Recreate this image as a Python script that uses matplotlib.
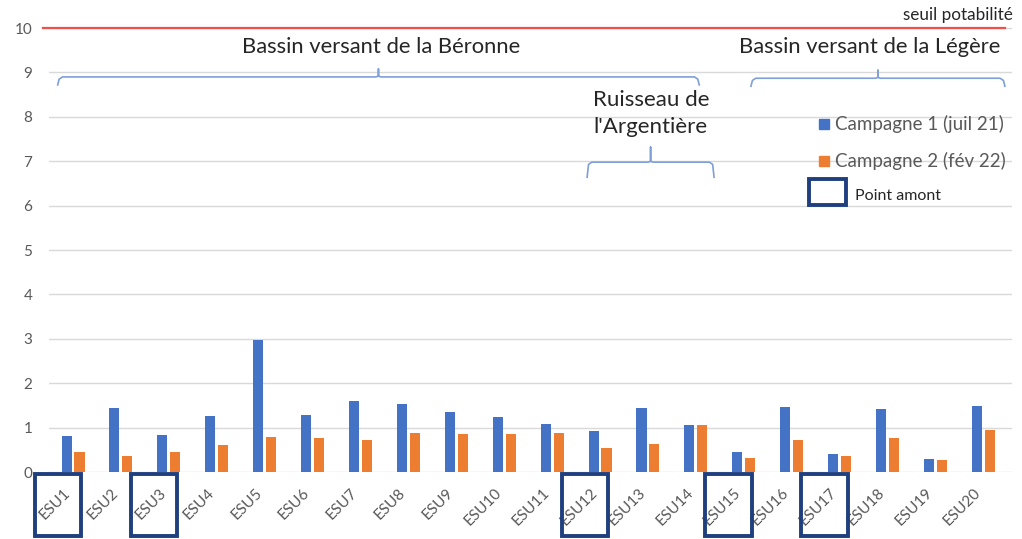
import numpy as np
import matplotlib.pyplot as plt
from matplotlib.patches import Rectangle
import matplotlib.transforms as mtransforms

plt.rcParams.update({
    "font.family": ["Lato", "DejaVu Sans"],
    "font.size": 11,
})

# ---------------- DATA ----------------
sites = ['ESU%d' % i for i in range(1, 21)]
camp1 = [0.80, 1.45, 0.84, 1.27, 2.98, 1.29, 1.60, 1.54, 1.36, 1.24,
         1.09, 0.93, 1.45, 1.05, 0.46, 1.47, 0.40, 1.41, 0.30, 1.48]
camp2 = [0.45, 0.36, 0.45, 0.61, 0.79, 0.76, 0.72, 0.88, 0.85, 0.85,
         0.88, 0.55, 0.64, 1.05, 0.31, 0.72, 0.35, 0.76, 0.28, 0.94]
upstream = ['ESU1', 'ESU3', 'ESU12', 'ESU15', 'ESU17']
threshold = 10

# (label, start, end, level)
groups = [
    ('Bassin versant de la Béronne', -0.32, 13.07, 8.9),
    ('Bassin versant de la Légère', 14.15, 19.45, 8.87),
    ("Ruisseau de\nl'Argentière", 10.73, 13.38, 6.98),
]

BLUE = '#4472C4'
ORANGE = '#ED7D31'
NAVY = '#1F3F7E'
BRACE = '#7F9FD8'
GREY = '#595959'

x = np.arange(len(sites))
w = 0.21

fig = plt.figure(figsize=(10.22, 5.39), dpi=100)
ax = fig.add_axes([0.048, 0.1243, 0.9423, 0.873])

ax.bar(x - 0.135, camp1, w, color=BLUE, zorder=3)
ax.bar(x + 0.135, camp2, w, color=ORANGE, zorder=3)

ax.set_xlim(-0.5, 19.6)
ax.set_ylim(0, 10.6)
ax.set_yticks(range(0, 11))
ax.yaxis.grid(True, color='#d9d9d9', linewidth=1, zorder=0)
for s in ax.spines.values():
    s.set_visible(False)
ax.tick_params(axis='y', length=0, pad=12, labelsize=11, labelcolor=GREY)
ax.tick_params(axis='x', length=0, pad=10, labelsize=11, labelcolor=GREY)
ax.set_xticks(x)
ax.set_xticklabels(sites, rotation=45, ha='right')

# seuil de potabilité
ax.plot([-0.62, 19.45], [threshold, threshold], color='#F0504A', lw=1.6,
        clip_on=False, zorder=4)
ax.text(19.62, threshold + 0.12, 'seuil potabilité', ha='right', va='bottom',
        fontsize=12.3, color='#262626')

# accolades
for label, x0, x1, yb in groups:
    xc = (x0 + x1) / 2
    tall = 0.34 if 'Ruisseau' in label else 0.18
    ax.plot([x0, x0 + 0.03, x0 + 0.1, xc - 0.05, xc, xc, xc, xc + 0.05,
             x1 - 0.1, x1 - 0.03, x1],
            [yb - tall, yb - 0.05, yb, yb, yb + 0.02, yb + tall, yb + 0.02, yb,
             yb, yb - 0.05, yb - tall],
            color=BRACE, lw=1.2, clip_on=False, zorder=4)

ax.text(6.43, 9.57, groups[0][0], ha='center', va='center', fontsize=15.8,
        color='#262626')
ax.text(16.62, 9.57, groups[1][0], ha='center', va='center', fontsize=15.8,
        color='#262626')
ax.text(12.06, 8.08, groups[2][0], ha='center', va='center', fontsize=16,
        color='#262626', linespacing=1.45)

# cadres des points amont
trans = mtransforms.blended_transform_factory(ax.transData, ax.transAxes)
for name in upstream:
    i = sites.index(name)
    ax.add_patch(Rectangle((i - 0.8, -0.135), 0.97, 0.13, transform=trans,
                           fill=False, edgecolor=NAVY, lw=2.8, clip_on=False,
                           zorder=5))

# légende
def px(xp, yp):
    return xp / 1022, 1 - yp / 539

fig.patches.append(Rectangle(px(819, 129), 10 / 1022, 10 / 539, color=BLUE,
                             transform=fig.transFigure))
fig.text(*px(835, 124), 'Campagne 1 (juil 21)', va='center', fontsize=13.5,
         color=GREY)
fig.patches.append(Rectangle(px(819, 166), 10 / 1022, 10 / 539, color=ORANGE,
                             transform=fig.transFigure))
fig.text(*px(835, 161), 'Campagne 2 (fév 22)', va='center', fontsize=13.5,
         color=GREY)
fig.patches.append(Rectangle(px(809, 205), 37 / 1022, 26 / 539, fill=False,
                             edgecolor=NAVY, lw=2.8, transform=fig.transFigure))
fig.text(*px(855, 196), 'Point amont', va='center', fontsize=11.5,
         color='#262626')

fig.savefig('out.png', dpi=100)
